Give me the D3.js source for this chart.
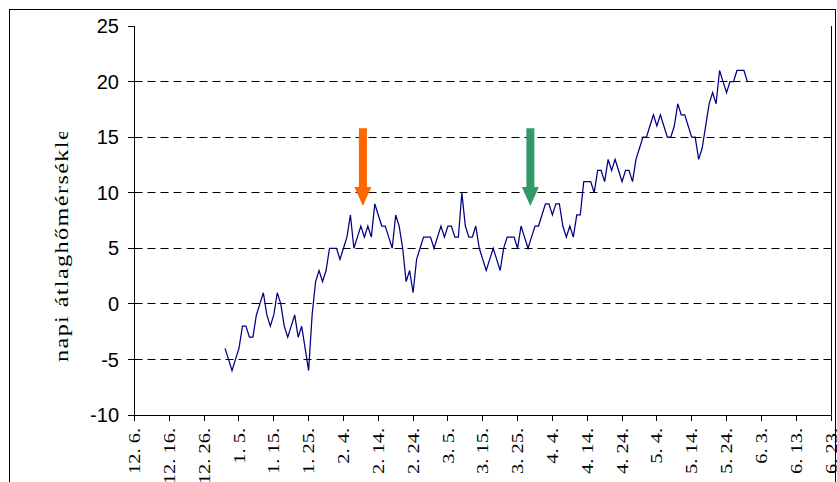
<!DOCTYPE html>
<html>
<head>
<meta charset="utf-8">
<script src="https://cdn.jsdelivr.net/npm/d3@7"></script>
<style>
  body { margin: 0; background: #fff; }
  svg { display: block; }
</style>
</head>
<body>
<div id="chart"></div>
<script>
// Daily mean temperature, one value per day starting on firstDay
const firstDay = '2004-01-01';
const temps = [
    -4, -5, -6, -5, -4, -2, -2, -3, -3, -1, 0, 1, -1, -2, -1, 1, 0, -2, -3, -2, -1, -3, -2, -4, -6, -1,
    2, 3, 2, 3, 5, 5, 5, 4, 5, 6, 8, 5, 6, 7, 6, 7, 6, 9, 8, 7, 7, 6, 5,
    8, 7, 5, 2, 3, 1, 4, 5, 6, 6, 6, 5, 6, 7, 6, 7, 7, 6, 6, 10, 7, 6, 6,
    7, 5, 4, 3, 4, 5, 4, 3, 5, 6, 6, 6, 5, 7, 6, 5, 6, 7, 7, 8, 9, 9, 8, 9,
    9, 7, 6, 7, 6, 8, 8, 11, 11, 11, 10, 12, 12, 11, 13, 12, 13, 12, 11, 12, 12, 11, 13, 14,
    15, 15, 16, 17, 16, 17, 16, 15, 15, 16, 18, 17, 17, 16, 15, 15, 13, 14, 16, 18, 19, 18, 21, 20, 19, 20, 20, 21, 21, 21, 20
];

// Category axis: labels every 10 days
const axisStart = '2003-12-06';
const axisEnd = '2004-06-23';
const tickLabels = ['12. 6.', '12. 16.', '12. 26.', '1. 5.', '1. 15.', '1. 25.', '2. 4.', '2. 14.', '2. 24.',
    '3. 5.', '3. 15.', '3. 25.', '4. 4.', '4. 14.', '4. 24.', '5. 4.', '5. 14.', '5. 24.', '6. 3.', '6. 13.', '6. 23.'];
const yTicks = [-10, -5, 0, 5, 10, 15, 20, 25];
const yTitle = 'napi átlaghőmérséklet';

// Annotation arrows (date, top value, tip value)
const arrowDates = ['2004-02-09T14:00Z', '2004-03-28T16:00Z'];
const arrowColors = ['#ff6600', '#339966'];
const arrowTop = 15.8;
const arrowTip = 8.8;

const width = 837, height = 482;
const parse = s => new Date(s.length === 10 ? s + 'T00:00Z' : s);

const svg = d3.select('#chart').append('svg')
    .attr('width', width)
    .attr('height', height);

// outer chart frame
svg.append('rect')
    .attr('x', 9.5).attr('y', 9.5)
    .attr('width', 826).attr('height', 500)
    .attr('fill', '#fff').attr('stroke', '#000');

const x = d3.scaleUtc()
    .domain([parse(axisStart), parse(axisEnd)])
    .range([134.5, 831]);
const y = d3.scaleLinear()
    .domain([-10, 25])
    .range([415, 26]);

const crisp = v => Math.round(v - 0.5) + 0.5;

// dashed gridlines
svg.append('g')
    .selectAll('line')
    .data(yTicks.filter(t => t > -10 && t < 25))
    .join('line')
    .attr('x1', 134.5).attr('x2', 831)
    .attr('y1', d => crisp(y(d))).attr('y2', d => crisp(y(d)))
    .attr('stroke', '#000')
    .attr('stroke-dasharray', '8,5');

// right border of plot area
svg.append('line')
    .attr('x1', 831.5).attr('x2', 831.5)
    .attr('y1', y(25)).attr('y2', y(-10))
    .attr('stroke', '#000');

// y axis
const yAxis = svg.append('g');
yAxis.append('line')
    .attr('x1', 134.5).attr('x2', 134.5)
    .attr('y1', y(25)).attr('y2', y(-10) + 0.5)
    .attr('stroke', '#000');
yAxis.selectAll('.tick')
    .data(yTicks)
    .join('line')
    .attr('x1', 128).attr('x2', 134.5)
    .attr('y1', d => crisp(y(d))).attr('y2', d => crisp(y(d)))
    .attr('stroke', '#000');
yAxis.selectAll('text')
    .data(yTicks)
    .join('text')
    .attr('x', 119)
    .attr('y', d => y(d))
    .attr('dy', '0.36em')
    .attr('text-anchor', 'end')
    .style('font-family', '"Liberation Sans", Arial, sans-serif')
    .style('font-size', '20px')
    .text(d => d);

// y title, cut off at the top like the original
svg.append('clipPath').attr('id', 'title-clip')
    .append('rect').attr('x', 30).attr('y', 132).attr('width', 60).attr('height', 300);
svg.append('g').attr('clip-path', 'url(#title-clip)')
    .append('text')
    .attr('transform', 'translate(68,362) rotate(-90) scale(1.35,1)')
    .style('font-family', '"Liberation Serif", "Times New Roman", serif')
    .style('font-size', '18px')
    .style('letter-spacing', '1px')
    .text(yTitle);

// x axis
const tickDates = tickLabels.map((_, i) => d3.utcDay.offset(parse(axisStart), i * 10));
const xAxis = svg.append('g');
xAxis.append('line')
    .attr('x1', 134).attr('x2', 831.5)
    .attr('y1', 415.5).attr('y2', 415.5)
    .attr('stroke', '#000');
xAxis.selectAll('.tick')
    .data(tickDates)
    .join('line')
    .attr('x1', d => crisp(x(d))).attr('x2', d => crisp(x(d)))
    .attr('y1', 415.5).attr('y2', 421)
    .attr('stroke', '#000');
xAxis.selectAll('text')
    .data(tickDates)
    .join('text')
    .attr('transform', d => `translate(${x(d)},428) rotate(-90) scale(1.2,1)`)
    .attr('dy', '0.33em')
    .attr('text-anchor', 'end')
    .style('font-family', '"Liberation Serif", "Times New Roman", serif')
    .style('font-size', '17px')
    .text((d, i) => tickLabels[i]);

// temperature line
const points = temps.map((v, i) => ({ date: d3.utcDay.offset(parse(firstDay), i), value: v }));
const line = d3.line()
    .x(d => x(d.date))
    .y(d => y(d.value));
svg.append('path')
    .datum(points)
    .attr('d', line)
    .attr('fill', 'none')
    .attr('stroke', '#000080')
    .attr('stroke-width', 1.25)
    .attr('stroke-linejoin', 'miter');

// arrows
const shaftW = 8, headW = 17, headL = 19;
arrowDates.forEach((s, i) => {
    const cx = x(parse(s));
    const top = y(arrowTop), tip = y(arrowTip);
    const base = tip - headL;
    const pts = [
        [cx - shaftW / 2, top], [cx + shaftW / 2, top], [cx + shaftW / 2, base],
        [cx + headW / 2, base], [cx, tip], [cx - headW / 2, base], [cx - shaftW / 2, base]
    ];
    svg.append('path')
        .attr('d', 'M' + pts.map(p => p.join(',')).join('L') + 'Z')
        .attr('fill', arrowColors[i]);
});
</script>
</body>
</html>
